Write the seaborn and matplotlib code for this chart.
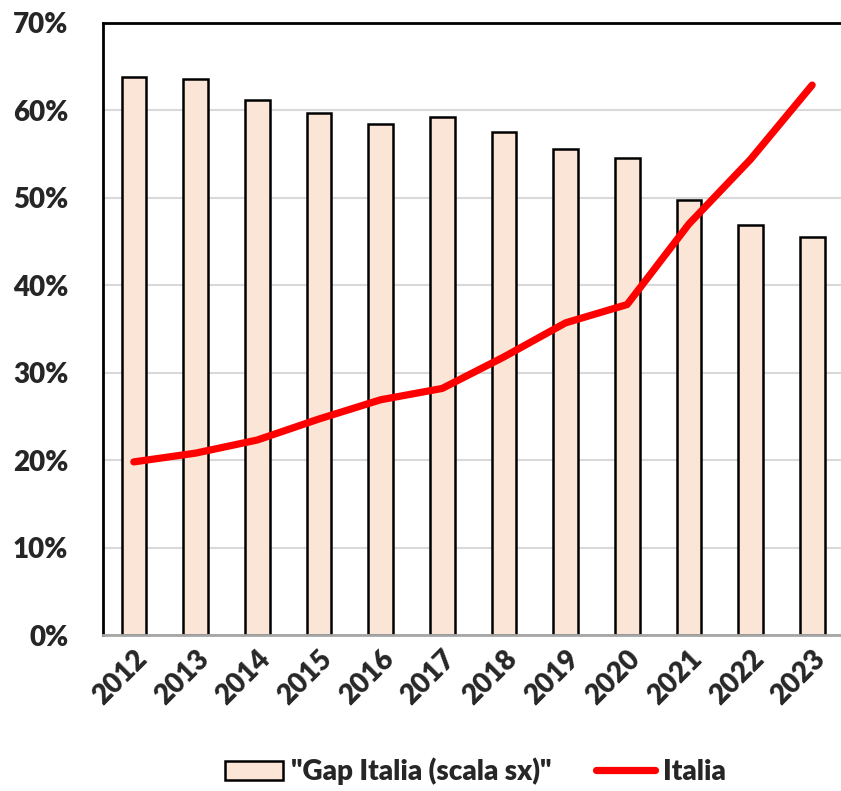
import matplotlib
matplotlib.use("Agg")
import matplotlib.pyplot as plt
import seaborn as sns
import numpy as np
import pandas as pd
from matplotlib.ticker import FuncFormatter
from matplotlib.patches import Patch
from matplotlib.lines import Line2D

years = ["2012", "2013", "2014", "2015", "2016", "2017", "2018", "2019", "2020", "2021", "2022", "2023"]
gap_italia = [0.638, 0.636, 0.612, 0.597, 0.584, 0.592, 0.575, 0.556, 0.546, 0.497, 0.469, 0.455]
italia = [0.198, 0.208, 0.223, 0.247, 0.269, 0.282, 0.318, 0.357, 0.378, 0.470, 0.544, 0.629]
bar_label = '"Gap Italia (scala sx)"'
line_label = "Italia"

sns.set_theme(style="white")
plt.rcParams["font.family"] = ["Lato", "DejaVu Sans"]
plt.rcParams["font.weight"] = "heavy"
FW = "heavy"
FS = 20

df = pd.DataFrame({"year": years, "gap": gap_italia, "italia": italia, "pos": np.arange(len(years))})

fig = plt.figure(figsize=(8.41, 7.91), dpi=100)
ax = fig.add_axes([103 / 841, 156 / 791, 740 / 841, 612 / 791])

sns.barplot(data=df, x="year", y="gap", ax=ax, width=0.4, color="#FBE5D6",
            edgecolor="black", linewidth=1.8, saturation=1, zorder=2)
sns.lineplot(data=df, x="pos", y="italia", ax=ax, color="#FF0000", linewidth=5.2,
             solid_capstyle="round", solid_joinstyle="round", zorder=3)

ax.set_xlim(-0.5, 11.5)
ax.set_ylim(0, 0.7)
ax.set_yticks(np.arange(0, 0.71, 0.1))
ax.yaxis.set_major_formatter(FuncFormatter(lambda v, p: f"{v*100:.0f}%"))
ax.grid(axis="y", color="#D9D9D9", linewidth=1.5, zorder=0)
ax.set_axisbelow(True)
ax.set_xlabel("")
ax.set_ylabel("")

for s in ["top", "left"]:
    ax.spines[s].set_visible(True)
    ax.spines[s].set_color("black")
    ax.spines[s].set_linewidth(2)
ax.spines["right"].set_visible(False)
ax.spines["bottom"].set_color("#A6A6A6")
ax.spines["bottom"].set_linewidth(2)

ax.tick_params(axis="y", length=0, pad=25, labelsize=FS)
ax.tick_params(axis="x", length=0, pad=8, labelsize=FS)
for lab in ax.get_yticklabels():
    lab.set_fontweight(FW)
for lab in ax.get_xticklabels():
    lab.set_fontweight(FW)
    lab.set_rotation(45)
    lab.set_ha("right")
    lab.set_rotation_mode("anchor")

handles = [Patch(facecolor="#FBE5D6", edgecolor="black", linewidth=1.8),
           Line2D([0], [0], color="#FF0000", linewidth=5.2, solid_capstyle="round")]
fig.legend(handles, [bar_label, line_label], loc="center", bbox_to_anchor=(0.565, 0.025),
           ncol=2, frameon=False, prop={"weight": FW, "size": FS},
           handlelength=2.1, handletextpad=0.3, columnspacing=1.6)

fig.savefig("out.png", dpi=100)
